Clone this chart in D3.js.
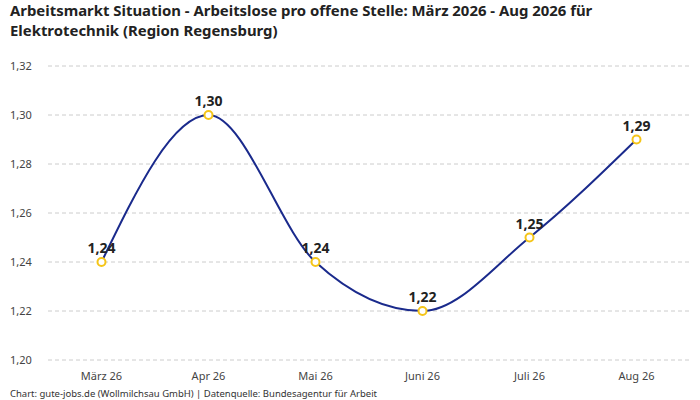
<!DOCTYPE html>
<html><head><meta charset="utf-8">
<script src="https://cdn.jsdelivr.net/npm/d3@7"></script>
<style>body{margin:0;background:#fff}text{font-family:"Noto Sans",Roboto,sans-serif}</style>
</head><body><svg id="c" width="700" height="400"></svg>
<script>
const categories=["März 26","Apr 26","Mai 26","Juni 26","Juli 26","Aug 26"];
const values=[1.24,1.30,1.24,1.22,1.25,1.29];
const yTicks=[1.20,1.22,1.24,1.26,1.28,1.30,1.32];
const fmt=d=>d.toFixed(2).replace(".",",");
const svg=d3.select("#c");
const x=d3.scaleBand().domain(categories).range([48,690]);
const y=d3.scaleLinear().domain([1.20,1.32]).range([360,66]);
svg.append("text").attr("x",10).attr("y",16).attr("font-size",14.9).attr("font-weight","bold").attr("fill","#222").text("Arbeitsmarkt Situation - Arbeitslose pro offene Stelle: März 2026 - Aug 2026 für");
svg.append("text").attr("x",10).attr("y",36).attr("font-size",14.9).attr("font-weight","bold").attr("fill","#222").text("Elektrotechnik (Region Regensburg)");
yTicks.forEach(t=>{
 svg.append("line").attr("x1",48).attr("x2",690).attr("y1",y(t)).attr("y2",y(t)).attr("stroke","#ccc").attr("stroke-dasharray","4,3");
 svg.append("text").attr("x",10).attr("y",y(t)+4).attr("font-size",11).attr("fill","#444").text(fmt(t));
});
categories.forEach(c=>svg.append("text").attr("x",x(c)+x.bandwidth()/2).attr("y",380).attr("text-anchor","middle").attr("font-size",11).attr("fill","#444").text(c));
const cx=(d,i)=>x(categories[i])+x.bandwidth()/2;
svg.append("path").datum(values).attr("d",d3.line().x(cx).y(d=>y(d)).curve(d3.curveMonotoneX)).attr("fill","none").attr("stroke","#1a2a8c").attr("stroke-width",2);
values.forEach((v,i)=>{
 svg.append("circle").attr("cx",cx(v,i)).attr("cy",y(v)).attr("r",4).attr("fill","#fff").attr("stroke","#f5c518").attr("stroke-width",2);
 svg.append("text").attr("x",cx(v,i)).attr("y",y(v)-9).attr("text-anchor","middle").attr("font-size",14).attr("font-weight","bold").attr("fill","#222").text(fmt(v));
});
svg.append("text").attr("x",10).attr("y",397).attr("font-size",9.5).attr("textLength",367).attr("fill","#333").text("Chart: gute-jobs.de (Wollmilchsau GmbH) | Datenquelle: Bundesagentur für Arbeit");
</script></body></html>
